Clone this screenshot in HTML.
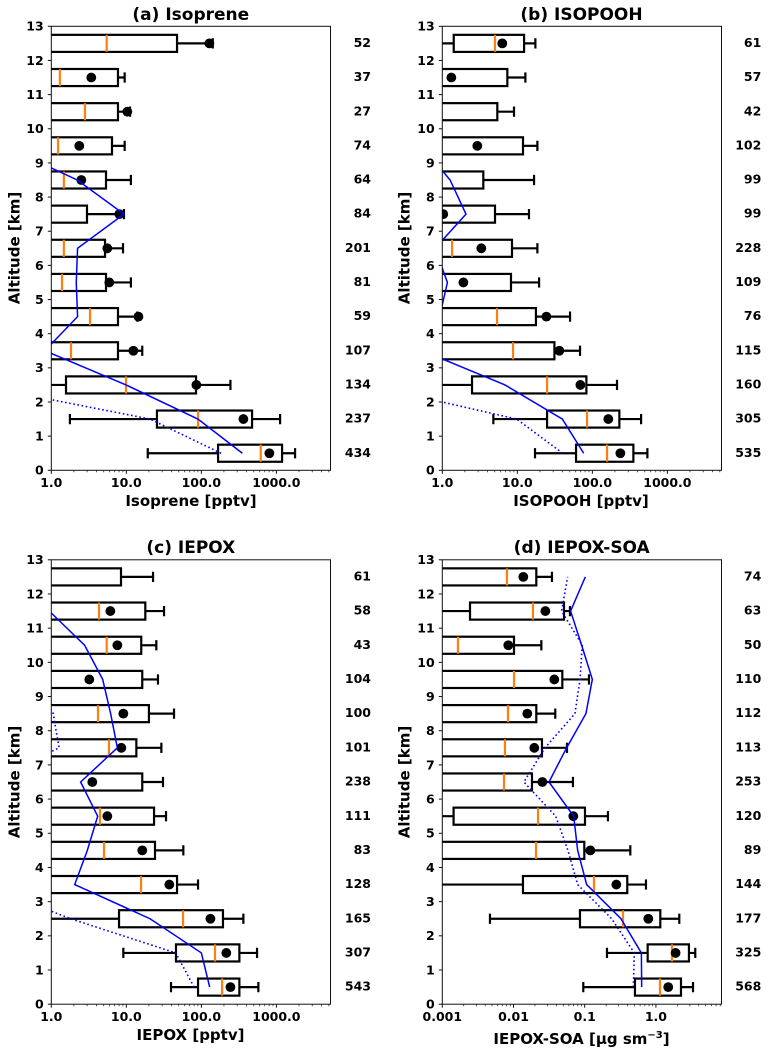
<!DOCTYPE html>
<html lang="en">
<head>
<meta charset="utf-8">
<title>Vertical profiles</title>
<style>
html,body{margin:0;padding:0;background:#fff}
svg{display:block}
text{font-family:"DejaVu Sans","Liberation Sans",sans-serif;font-weight:700;fill:#000}
.title{font-size:17px;text-anchor:middle}
.axis-label{font-size:15px;text-anchor:middle}
.tick{font-size:12.5px}
.count{font-size:12.5px;text-anchor:end}
</style>
</head>
<body>
<svg id="fig" xmlns="http://www.w3.org/2000/svg" width="769" height="1054" viewBox="0 0 769 1054">
  <rect width="769" height="1054" fill="#fff"/>
  <defs>
    <clipPath id="clip-a"><rect x="51.3" y="26.3" width="279.2" height="444"/></clipPath>
    <clipPath id="clip-b"><rect x="442.3" y="26.3" width="279.2" height="444"/></clipPath>
    <clipPath id="clip-c"><rect x="51.3" y="559.8" width="279.2" height="444.4"/></clipPath>
    <clipPath id="clip-d"><rect x="442.3" y="559.8" width="279.2" height="444.4"/></clipPath>
  </defs>
  <text class="title" x="190.8" y="20">(a) Isoprene</text>
  <text class="title" x="581.5" y="20">(b) ISOPOOH</text>
  <text class="title" x="190.8" y="553">(c) IEPOX</text>
  <text class="title" x="581.7" y="553">(d) IEPOX-SOA</text>
  <text class="axis-label" x="191" y="506">Isoprene [pptv]</text>
  <text class="axis-label" x="581" y="506">ISOPOOH [pptv]</text>
  <text class="axis-label" x="190.5" y="1040">IEPOX [pptv]</text>
  <text class="axis-label" x="581.5" y="1044">IEPOX-SOA [µg sm<tspan dy="-6" font-size="10">−3</tspan><tspan dy="6">]</tspan></text>
  <text class="axis-label" transform="translate(19.3 248) rotate(-90)">Altitude [km]</text>
  <text class="axis-label" transform="translate(409.3 248) rotate(-90)">Altitude [km]</text>
  <text class="axis-label" transform="translate(19.3 782) rotate(-90)">Altitude [km]</text>
  <text class="axis-label" transform="translate(409.3 782) rotate(-90)">Altitude [km]</text>
</svg>
<script>
// Shared axis data
const altitudes = [0.5,1.5,2.5,3.5,4.5,5.5,6.5,7.5,8.5,9.5,10.5,11.5,12.5];
const yTicks = [0,1,2,3,4,5,6,7,8,9,10,11,12,13];
const pptvTicks = [1,10,100,1000];
const pptvTickLabels = ['1.0','10.0','100.0','1000.0'];
const soaTicks = [0.001,0.01,0.1,1];
const soaTickLabels = ['0.001','0.01','0.1','1.0'];
const minorMultipliers = [2,3,4,5,6,7,8,9];

// (a) Isoprene
const isopreneQ1 = [167,25.6,1.57,0.5,0.5,0.5,0.5,0.5,0.5,0.5,0.5,0.5,0.5];
const isopreneMedian = [618,90.3,9.9,1.83,3.28,1.39,1.47,0.5,1.47,1.23,2.81,1.30,5.47];
const isopreneQ3 = [1190,474,84.9,7.74,7.74,5.36,5.2,2.99,5.36,6.44,7.74,7.74,47.4];
const isopreneLow = [19.3,1.77,0.1,0.1,0.1,0.1,0.1,0.1,0.1,0.1,0.1,0.1,0.1];
const isopreneHigh = [1774,1120,244,16.3,14.0,11.5,9.03,9.3,11.5,9.5,11.2,9.5,142];
const isopreneMean = [806,363,85.8,12.4,14.5,5.93,5.58,8.07,2.51,2.36,10.3,3.41,128];
const isopreneModel = [352,90,9.9,0.82,2.24,2.15,2.24,9.3,2.22,0.23,0.2,0.2,0.2];
const isopreneModelAlt = [183,20.7,0.10,null,null,null,null,null,null,null,null,null,null];
const isopreneCounts = [434,237,134,107,59,81,201,84,64,74,27,37,52];

// (b) ISOPOOH
const isopoohQ1 = [60.6,24.9,2.49,0.5,0.5,0.5,0.5,0.5,0.5,0.5,0.5,0.5,1.42];
const isopoohMedian = [157,84.9,24.9,8.76,5.36,0.5,1.35,0.5,0.5,0.5,0.5,0.5,5.04];
const isopoohQ3 = [352,229,83.2,31.2,17.7,8.23,8.49,5.04,3.52,11.9,5.41,7.36,12.3];
const isopoohLow = [17.2,4.79,0.1,0.1,0.1,0.1,0.1,0.1,0.1,0.1,0.1,0.1,0.1];
const isopoohHigh = [541,446,213,68.5,50.4,19.5,18.5,14.3,16.7,18.5,9.03,12.8,17.4];
const isopoohMean = [236,163,69.2,36.3,24.4,1.91,3.31,1.03,0.3,2.93,0.3,1.32,6.3];
const isopoohModel = [76.6,39.8,6.85,0.547,0.92,1.17,0.8,2.07,1.27,0.53,0.5,0.5,0.5];
const isopoohModelAlt = [40.2,9.8,0.1,null,null,null,null,null,null,null,null,null,null];
const isopoohCounts = [535,305,160,115,76,109,228,99,99,102,42,57,61];

// (c) IEPOX
const iepoxQ1 = [90.3,45.9,7.99,0.5,0.5,0.5,0.5,0.5,0.5,0.5,0.5,0.5,0.5];
const iepoxMedian = [189,152,57,15.7,5.04,4.45,0.5,5.87,4.19,0.5,5.47,4.32,0.5];
const iepoxQ3 = [321,321,194,47.4,24.1,23.4,16.3,13.6,20,16.3,15.8,17.9,8.49];
const iepoxLow = [39.4,9.12,0.1,0.1,0.1,0.1,0.1,0.1,0.1,0.1,0.1,0.1,0.1];
const iepoxHigh = [575,552,363,90.3,57.5,33.8,30.8,29.3,43.2,26.4,25.1,31.8,22.7];
const iepoxMean = [244,215,132,37.4,16.3,5.58,3.52,8.58,9.12,3.21,7.59,6.12,0.3];
const iepoxModel = [129,100,20.7,2.05,3.02,4.15,2.46,7.59,6.18,4.84,2.78,0.94,0.5];
const iepoxModelAlt = [80,45.5,1.81,0.12,0.1,0.1,0.146,1.27,1.06,0.57,null,null,null];
const iepoxCounts = [543,307,165,128,83,111,238,101,100,104,43,58,61];

// (d) IEPOX-SOA
const soaQ1 = [0.508,0.766,0.0858,0.01358,0.0005,0.00144,0.0005,0.0005,0.0005,0.0005,0.0005,0.00245,0.0005];
const soaMedian = [1.14,1.68,0.345,0.135,0.0207,0.0221,0.00735,0.00759,0.00836,0.01016,0.00166,0.01877,0.00809];
const soaQ3 = [2.25,2.91,1.153,0.396,0.0987,0.1009,0.01817,0.0251,0.0209,0.0485,0.01016,0.0512,0.0209];
const soaLow = [0.0955,0.2055,0.00467,0.0002,0.0002,0.0002,0.0002,0.0002,0.0002,0.0002,0.0002,0.0002,0.0002];
const soaHigh = [3.32,3.57,2.13,0.725,0.437,0.212,0.0684,0.0564,0.0386,0.1148,0.0246,0.0621,0.0347];
const soaMean = [1.49,1.89,0.782,0.278,0.12,0.0692,0.0254,0.0196,0.01563,0.0374,0.00845,0.028,0.01373];
const soaModel = [0.631,0.625,0.323,0.1065,0.0796,0.07,0.0315,0.0557,0.104,0.128,0.0906,0.0634,0.102];
const soaModelAlt = [0.482,0.497,0.239,0.0796,0.0582,0.0391,0.014,0.0277,0.073,0.0859,0.0925,0.0474,0.0576];
const soaCounts = [568,325,177,144,89,120,253,113,112,110,50,63,74];

const NS = 'http://www.w3.org/2000/svg';
const fig = document.getElementById('fig');

function make(tag, parent, props) {
  const el = document.createElementNS(NS, tag);
  for (const k in props) el.setAttribute(k, props[k]);
  parent.appendChild(el);
  return el;
}

function drawPanel(p) {
  const x = v => p.left + (Math.log10(v) - Math.log10(p.xMin)) / (Math.log10(p.xMax) - Math.log10(p.xMin)) * (p.right - p.left);
  const y = a => p.bottom - a / 13 * (p.bottom - p.top);

  const panel = make('g', fig, {});
  
  

  const plot = make('g', panel, {'clip-path': 'url(#clip-' + p.id + ')'});
  
  

  altitudes.forEach((alt, i) => {
    const cy = y(alt);
    const boxTop = y(alt + 0.25);
    const boxBottom = y(alt - 0.25);
    const capTop = y(alt + 0.15);
    const capBottom = y(alt - 0.15);
    const group = make('g', plot, {fill: 'none', stroke: '#000', 'stroke-width': 2.2});
    
    

    const lowWhisker = make('line', group, {x1: x(p.low[i]), x2: x(p.q1[i]), y1: cy, y2: cy});
    
    

    const highWhisker = make('line', group, {x1: x(p.q3[i]), x2: x(p.high[i]), y1: cy, y2: cy});
    
    

    const lowCap = make('line', group, {x1: x(p.low[i]), x2: x(p.low[i]), y1: capTop, y2: capBottom});
    
    

    const highCap = make('line', group, {x1: x(p.high[i]), x2: x(p.high[i]), y1: capTop, y2: capBottom});
    
    

    const box = make('rect', group, {x: x(p.q1[i]), y: boxTop, width: x(p.q3[i]) - x(p.q1[i]), height: boxBottom - boxTop});
    
    

    const median = make('line', group, {x1: x(p.median[i]), x2: x(p.median[i]), y1: boxTop, y2: boxBottom, stroke: '#ff7f0e'});
    
    
  });

  altitudes.forEach((alt, i) => {
    const dot = make('circle', plot, {cx: x(p.mean[i]), cy: y(alt), r: 4.9, fill: '#000'});
    
    
  });

  const toPoints = vals => altitudes.map((alt, i) => vals[i] === null ? null : x(vals[i]).toFixed(2) + ',' + y(alt).toFixed(2)).filter(Boolean).join(' ');

  const dotted = make('polyline', plot, {points: toPoints(p.modelAlt), fill: 'none', stroke: '#0000ff', 'stroke-width': 1.6, 'stroke-dasharray': '1.6 2.6'});
  
  

  const solid = make('polyline', plot, {points: toPoints(p.model), fill: 'none', stroke: '#0000ff', 'stroke-width': 1.5});
  
  

  const frame = make('rect', panel, {x: p.left, y: p.top, width: p.right - p.left, height: p.bottom - p.top, fill: 'none', stroke: '#111', 'stroke-width': 1});
  
  

  yTicks.forEach(t => {
    const tick = make('line', panel, {x1: p.left - 3.5, x2: p.left, y1: y(t), y2: y(t), stroke: '#111', 'stroke-width': 1});
    
    
    const label = make('text', panel, {x: p.left - 7.6, y: y(t) + 4.4, 'text-anchor': 'end', class: 'tick'});
    label.textContent = t;
    
    
  });

  p.ticks.forEach((t, i) => {
    const tick = make('line', panel, {x1: x(t), x2: x(t), y1: p.bottom, y2: p.bottom + 3.5, stroke: '#111', 'stroke-width': 1});
    
    
    const label = make('text', panel, {x: x(t), y: p.bottom + 16.8, 'text-anchor': 'middle', class: 'tick'});
    label.textContent = p.tickLabels[i];
    
    
    minorMultipliers.forEach(m => {
      const v = t * m;
      if (v > p.xMax) return;
      const minor = make('line', panel, {x1: x(v), x2: x(v), y1: p.bottom, y2: p.bottom + 2, stroke: '#111', 'stroke-width': 0.7});
      
      
    });
  });

  altitudes.forEach((alt, i) => {
    const n = make('text', panel, {x: p.countX, y: y(alt) + 3.6, class: 'count'});
    n.textContent = p.counts[i];
    
    
  });
}

drawPanel({id:'a', key:'isoprene', left:51.3, right:330.5, top:26.3, bottom:470.3, xMin:1, xMax:5260, countX:371,
  ticks:pptvTicks, tickLabels:pptvTickLabels, q1:isopreneQ1, median:isopreneMedian, q3:isopreneQ3, low:isopreneLow, high:isopreneHigh, mean:isopreneMean, model:isopreneModel, modelAlt:isopreneModelAlt, counts:isopreneCounts});
drawPanel({id:'b', key:'isopooh', left:442.3, right:721.5, top:26.3, bottom:470.3, xMin:1, xMax:5260, countX:761.3,
  ticks:pptvTicks, tickLabels:pptvTickLabels, q1:isopoohQ1, median:isopoohMedian, q3:isopoohQ3, low:isopoohLow, high:isopoohHigh, mean:isopoohMean, model:isopoohModel, modelAlt:isopoohModelAlt, counts:isopoohCounts});
drawPanel({id:'c', key:'iepox', left:51.3, right:330.5, top:559.8, bottom:1004.2, xMin:1, xMax:5260, countX:371,
  ticks:pptvTicks, tickLabels:pptvTickLabels, q1:iepoxQ1, median:iepoxMedian, q3:iepoxQ3, low:iepoxLow, high:iepoxHigh, mean:iepoxMean, model:iepoxModel, modelAlt:iepoxModelAlt, counts:iepoxCounts});
drawPanel({id:'d', key:'iepox-soa', left:442.3, right:721.5, top:559.8, bottom:1004.2, xMin:0.001, xMax:8.34, countX:761.3,
  ticks:soaTicks, tickLabels:soaTickLabels, q1:soaQ1, median:soaMedian, q3:soaQ3, low:soaLow, high:soaHigh, mean:soaMean, model:soaModel, modelAlt:soaModelAlt, counts:soaCounts});
</script>
</body>
</html>
